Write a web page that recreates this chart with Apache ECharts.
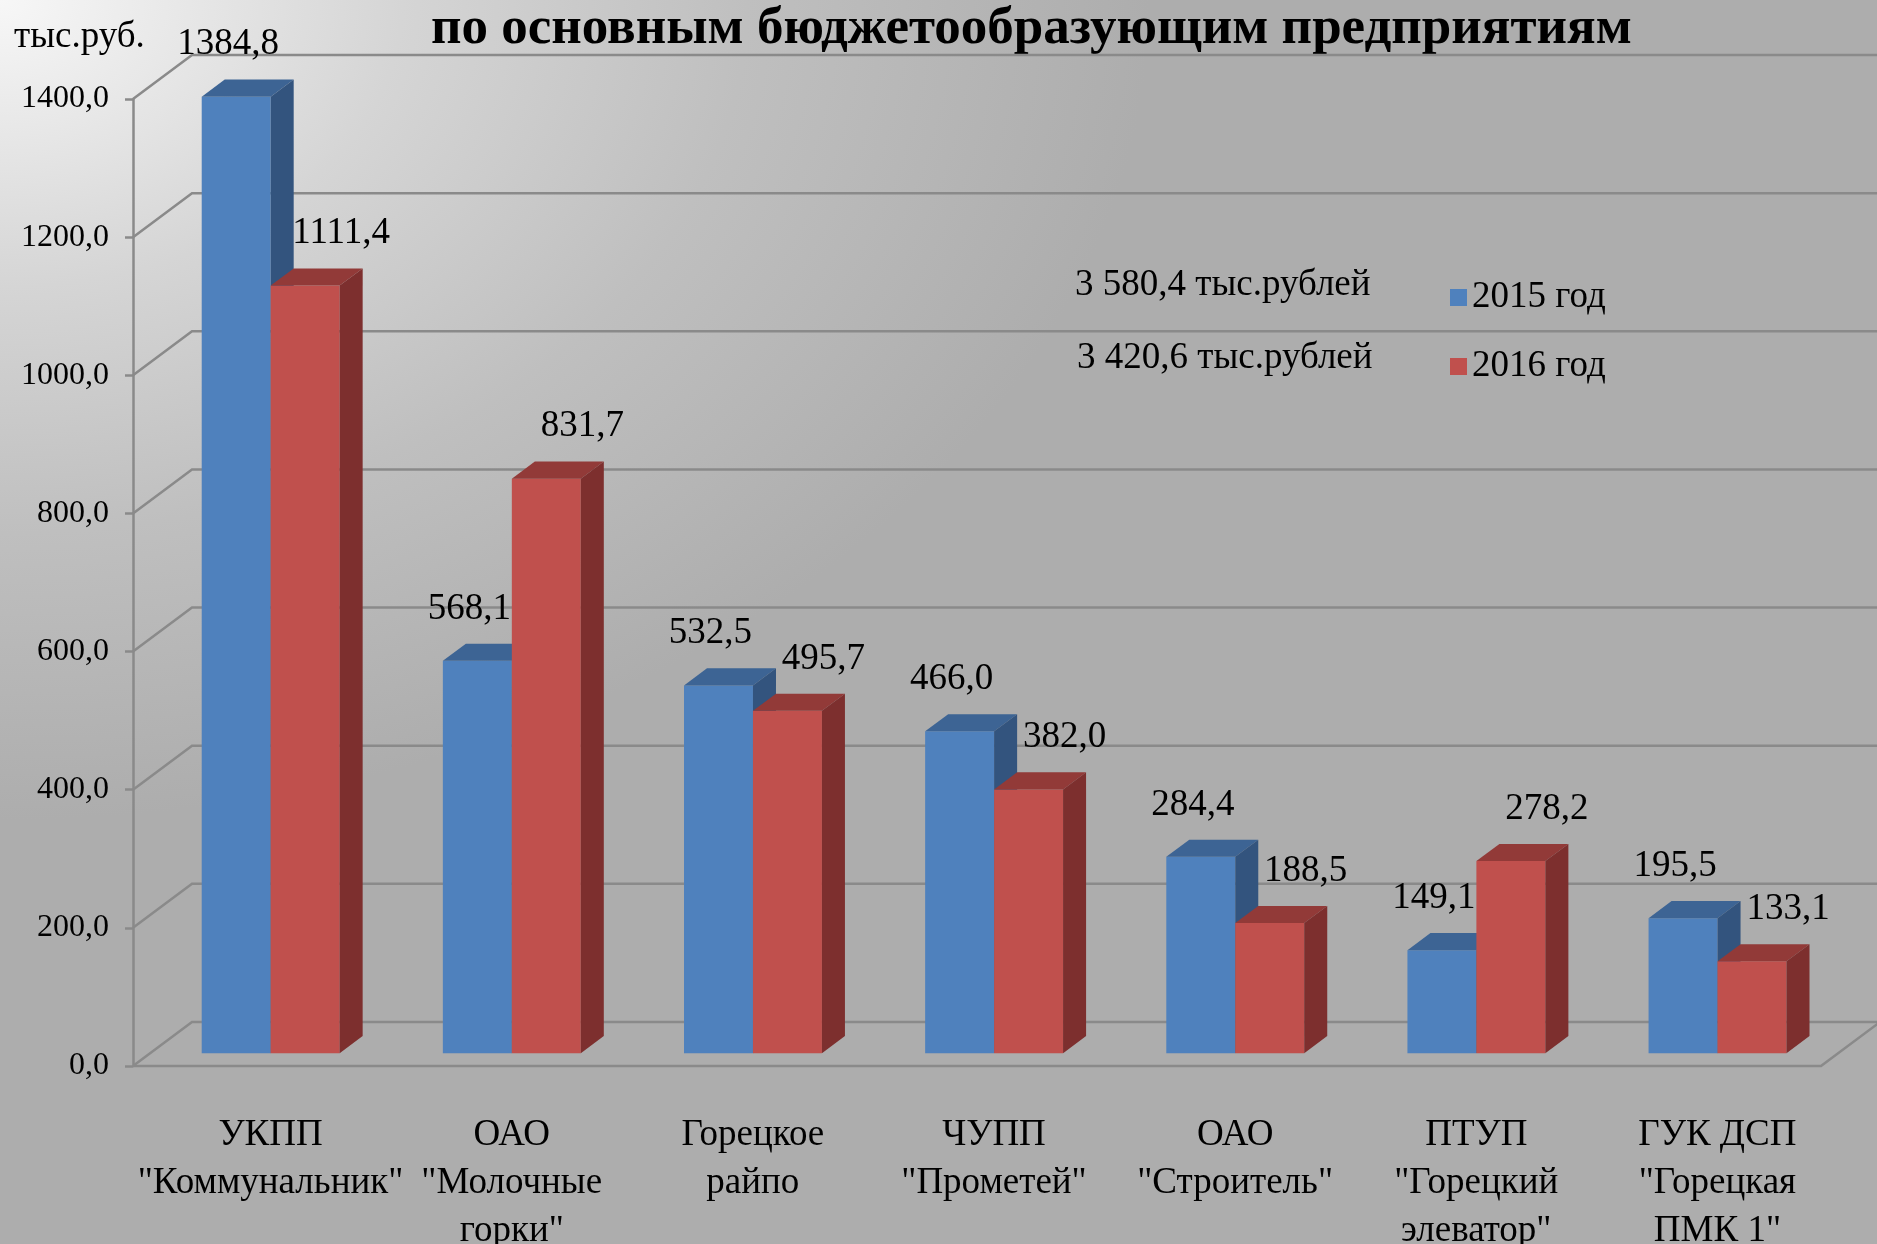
<!DOCTYPE html>
<html>
<head>
<meta charset="utf-8">
<script src="https://cdn.jsdelivr.net/npm/echarts@6/dist/echarts.min.js"></script>
<style>
  html, body { margin: 0; padding: 0; }
  #chart {
    width: 1877px;
    height: 1244px;
    background: radial-gradient(ellipse 1150px 820px at 0 0, #f7f7f7 0%, #d5d5d5 35%, #bfbfbf 65%, #adadad 100%);
  }
</style>
</head>
<body>
<div id="chart"></div>
<script>
const categories = [
  'УКПП\n"Коммунальник"',
  'ОАО\n"Молочные\nгорки"',
  'Горецкое\nрайпо',
  'ЧУПП\n"Прометей"',
  'ОАО\n"Строитель"',
  'ПТУП\n"Горецкий\nэлеватор"',
  'ГУК ДСП\n"Горецкая\nПМК 1"'
]
const values2015 = [1384.8, 568.1, 532.5, 466.0, 284.4, 149.1, 195.5]
const values2016 = [1111.4, 831.7, 495.7, 382.0, 188.5, 278.2, 133.1]
const yTicks = [0, 200, 400, 600, 800, 1000, 1200, 1400]
const seriesNames = ['2015 год', '2016 год']
const totals = ['3 580,4 тыс.рублей', '3 420,6 тыс.рублей']

const FONT = "'Liberation Serif', 'Times New Roman', serif"
// глубина "3D" стенок
const DX = 59
const DY = 44
const GRID_LINE = '#8a8a8a'

const fmt = (v) => v.toFixed(1).replace('.', ',')

const palette = [
  { front: '#4f81bd', top: '#3d6494', side: '#33547e' },
  { front: '#c0504d', top: '#923a38', side: '#7d2f2e' },
]

// псевдо-3D столбик: передняя грань, верх, бок и подпись
const barItem = (idx, labelDx) => (params, api) => {
  const cat = api.value(0)
  const val = api.value(1)
  const base = api.coord([cat, 0])
  const top = api.coord([cat, val])
  const band = api.size([1, 0])[0]
  const w = band * 0.286
  const ox = DX * 0.29, oy = DY * 0.29
  const dx = DX * 0.39, dy = DY * 0.39
  const x0 = base[0] + ox - (idx === 0 ? w : 0)
  const by = base[1] - oy
  const ty = top[1] - oy
  const c = palette[idx]
  return {
    type: 'group',
    children: [
      { type: 'rect', shape: { x: x0, y: ty, width: w, height: by - ty }, style: { fill: c.front } },
      { type: 'polygon', shape: { points: [[x0, ty], [x0 + w, ty], [x0 + w + dx, ty - dy], [x0 + dx, ty - dy]] }, style: { fill: c.top } },
      { type: 'polygon', shape: { points: [[x0 + w, ty], [x0 + w + dx, ty - dy], [x0 + w + dx, by - dy], [x0 + w, by]] }, style: { fill: c.side } },
      {
        type: 'text', x: x0 + w / 2 + labelDx, y: ty - 52,
        style: { text: fmt(val), fill: '#000', fontSize: 37, fontFamily: FONT, align: 'center', verticalAlign: 'middle', textAlign: 'center', textVerticalAlign: 'middle' }
      },
    ],
  }
}

// задняя и боковая стенки с линиями сетки
const wallItem = (params, api) => {
  const cs = params.coordSys
  const v = api.value(1)
  const y = api.coord([0, v])[1]
  const st = { stroke: GRID_LINE, lineWidth: 2.5, fill: null }
  const children = [
    { type: 'polyline', shape: { points: [[cs.x, y], [cs.x + DX, y - DY], [cs.x + cs.width + DX, y - DY]] }, style: st },
  ]
  if (v === 0) {
    children.push({ type: 'polyline', shape: { points: [[cs.x, y], [cs.x + cs.width, y], [cs.x + cs.width + DX, y - DY]] }, style: st })
  }
  return { type: 'group', children }
}

const chart = echarts.init(document.getElementById('chart'))

chart.setOption({
  animation: false,
  backgroundColor: 'transparent',
  grid: { left: 133, right: 56, top: 99, bottom: 178, containLabel: false, outerBoundsMode: 'none' },
  legend: {
    data: seriesNames,
    orient: 'vertical',
    left: 1445,
    top: 274,
    itemWidth: 17,
    itemHeight: 17,
    itemGap: 32,
    icon: 'rect',
    textStyle: { fontFamily: FONT, fontSize: 37, color: '#000' },
  },
  xAxis: {
    type: 'category',
    data: categories,
    axisLine: { show: false },
    axisTick: { show: false },
    axisLabel: {
      interval: 0,
      margin: 45,
      color: '#000',
      fontFamily: FONT,
      fontSize: 37,
      lineHeight: 48,
      verticalAlign: 'top',
      padding: [0, 0, 0, 34],
    },
  },
  yAxis: {
    type: 'value',
    min: 0,
    max: 1400,
    interval: 200,
    axisLine: { show: true, lineStyle: { color: GRID_LINE, width: 2.5 } },
    axisTick: { show: true, length: 8, lineStyle: { color: GRID_LINE, width: 2.5 } },
    splitLine: { show: false },
    axisLabel: { color: '#000', fontFamily: FONT, fontSize: 32, margin: 24, formatter: (v) => fmt(v) },
  },
  graphic: [
    {
      type: 'text', left: 431, top: 3,
      style: { text: 'по основным бюджетообразующим предприятиям', fontFamily: FONT, fontSize: 53, fontWeight: 'bold', fill: '#000' },
    },
    { type: 'text', left: 14, top: 19, style: { text: 'тыс.руб.', fontFamily: FONT, fontSize: 37, fill: '#000' } },
    { type: 'text', left: 1075, top: 267, style: { text: totals[0], fontFamily: FONT, fontSize: 37, fill: '#000' } },
    { type: 'text', left: 1077, top: 340, style: { text: totals[1], fontFamily: FONT, fontSize: 37, fill: '#000' } },
  ],
  series: [
    {
      type: 'custom',
      name: 'walls',
      silent: true,
      z: 1,
      renderItem: wallItem,
      data: yTicks.map((v) => [0, v]),
    },
    {
      type: 'custom',
      name: seriesNames[0],
      z: 2,
      itemStyle: { color: palette[0].front },
      renderItem: barItem(0, -8),
      data: values2015.map((v, i) => [i, v]),
    },
    {
      type: 'custom',
      name: seriesNames[1],
      z: 3,
      itemStyle: { color: palette[1].front },
      renderItem: barItem(1, 36),
      data: values2016.map((v, i) => [i, v]),
    },
  ],
})

window.addEventListener('resize', () => chart.resize())
</script>
</body>
</html>
